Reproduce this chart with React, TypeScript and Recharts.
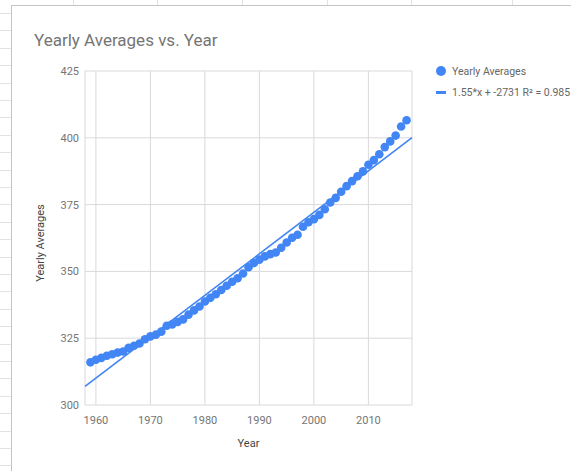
import { ScatterChart, Scatter, XAxis, YAxis, CartesianGrid, ReferenceLine, Label } from 'recharts';

// Mauna Loa yearly averages
const years = [
    1959, 1960, 1961, 1962, 1963, 1964, 1965, 1966, 1967, 1968,
    1969, 1970, 1971, 1972, 1973, 1974, 1975, 1976, 1977, 1978,
    1979, 1980, 1981, 1982, 1983, 1984, 1985, 1986, 1987, 1988,
    1989, 1990, 1991, 1992, 1993, 1994, 1995, 1996, 1997, 1998,
    1999, 2000, 2001, 2002, 2003, 2004, 2005, 2006, 2007, 2008,
    2009, 2010, 2011, 2012, 2013, 2014, 2015, 2016, 2017,
];
const averages = [
    315.97, 316.91, 317.64, 318.45, 318.99, 319.62, 320.04, 321.38, 322.16, 323.04,
    324.62, 325.68, 326.32, 327.45, 329.68, 330.18, 331.11, 332.04, 333.83, 335.40,
    336.84, 338.75, 340.11, 341.45, 343.05, 344.65, 346.12, 347.42, 349.19, 351.57,
    353.12, 354.39, 355.61, 356.45, 357.10, 358.83, 360.82, 362.61, 363.73, 366.70,
    368.38, 369.55, 371.14, 373.28, 375.80, 377.52, 379.80, 381.90, 383.79, 385.60,
    387.43, 389.90, 391.65, 393.85, 396.52, 398.65, 400.83, 404.24, 406.55,
];
const xTicks = [1960, 1970, 1980, 1990, 2000, 2010];
const yTicks = [300, 325, 350, 375, 400, 425];
const xDomain = [1958, 2018];
const legendLabels = ['Yearly Averages', '1.55*x + -2731 R\u00B2 = 0.985'];

const BLUE = '#4285f4';

const points = years.map((year, i) => ({ year, value: averages[i] }));

// least squares trendline through the points
const n = years.length;
const meanX = years.reduce((a, b) => a + b, 0) / n;
const meanY = averages.reduce((a, b) => a + b, 0) / n;
let sxy = 0;
let sxx = 0;
years.forEach((x, i) => {
    sxy += (x - meanX) * (averages[i] - meanY);
    sxx += (x - meanX) * (x - meanX);
});
const slope = sxy / sxx;
const intercept = meanY - slope * meanX;
const trend = xDomain.map((x) => ({ x, y: slope * x + intercept }));

// spreadsheet lines behind the chart card
const sheetRows = Array.from({ length: 27 }, (_, i) => 13 + i * 17.4);
const sheetCols = [73, 157, 242, 327, 411, 512];

export default function App() {
    return (
        <div style={{ position: 'absolute', left: 0, top: 0, width: 571, height: 471, overflow: 'hidden', background: '#fff', fontFamily: 'Roboto, sans-serif' }}>
            {sheetRows.map((y) => (
                <div key={`r-${y}`} style={{ position: 'absolute', left: 0, top: Math.round(y), width: 11, height: 1, background: '#e2e2e2' }} />
            ))}
            {sheetCols.map((x) => (
                <div key={`c-${x}`} style={{ position: 'absolute', left: x, top: 0, width: 1, height: 5, background: '#e2e2e2' }} />
            ))}

            <div style={{ position: 'absolute', left: 11, top: 5, width: 560, height: 466, background: '#fff', borderLeft: '1px solid #c4c4c4', borderTop: '1px solid #c4c4c4' }}>
                <div style={{ position: 'absolute', left: 22, top: 24, fontSize: 17, lineHeight: '20px', color: '#757575', whiteSpace: 'nowrap' }}>
                    Yearly Averages vs. Year
                </div>

                {/* Legend */}
                <div style={{ position: 'absolute', left: 424, top: 58, fontSize: 10.5, color: '#666', whiteSpace: 'nowrap' }}>
                    <div style={{ display: 'flex', alignItems: 'center', height: 14 }}>
                        <div style={{ width: 10, height: 10, borderRadius: '50%', background: BLUE, marginRight: 6 }} />
                        <span>{legendLabels[0]}</span>
                    </div>
                    <div style={{ display: 'flex', alignItems: 'center', height: 14, marginTop: 7 }}>
                        <div style={{ width: 10, height: 3, background: BLUE, marginRight: 6 }} />
                        <span>{legendLabels[1]}</span>
                    </div>
                </div>

                <ScatterChart width={559} height={465} margin={{ top: 65, right: 159, bottom: 0, left: 0 }}>
                    <CartesianGrid stroke="#d9d9d9" />
                    <XAxis
                        type="number"
                        dataKey="year"
                        domain={xDomain}
                        ticks={xTicks}
                        height={66}
                        axisLine={false}
                        tickLine={false}
                        tickSize={0}
                        tickMargin={11}
                        tick={{ fontSize: 11, fill: '#757575' }}
                        allowDataOverflow
                    >
                        <Label
                            content={({ viewBox }: any) => (
                                <text x={viewBox.x + viewBox.width / 2} y={441} textAnchor="middle" fontSize={11} fill="#444">
                                    Year
                                </text>
                            )}
                        />
                    </XAxis>
                    <YAxis
                        type="number"
                        dataKey="value"
                        domain={[300, 425]}
                        ticks={yTicks}
                        width={73}
                        axisLine={false}
                        tickLine={false}
                        tickSize={0}
                        tickMargin={6}
                        tick={{ fontSize: 11, fill: '#757575' }}
                    >
                        <Label
                            content={({ viewBox }: any) => (
                                <text
                                    x={viewBox.x + 28}
                                    y={237}
                                    transform={`rotate(-90 ${viewBox.x + 28} 237)`}
                                    textAnchor="middle"
                                    dominantBaseline="central"
                                    fontSize={11}
                                    fill="#444"
                                >
                                    Yearly Averages
                                </text>
                            )}
                        />
                    </YAxis>
                    <ReferenceLine
                        segment={[{ x: trend[0].x, y: trend[0].y }, { x: trend[1].x, y: trend[1].y }]}
                        stroke={BLUE}
                        strokeWidth={1.6}
                    />
                    <Scatter
                        data={points}
                        fill={BLUE}
                        isAnimationActive={false}
                        shape={(props: any) => <circle cx={props.cx} cy={props.cy} r={4.3} fill={BLUE} />}
                    />
                </ScatterChart>
            </div>
        </div>
    );
}
